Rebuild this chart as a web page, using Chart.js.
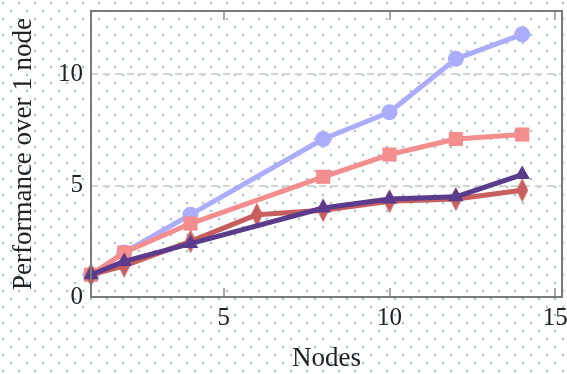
<!DOCTYPE html>
<html>
<head>
<meta charset="utf-8">
<script src="https://cdn.jsdelivr.net/npm/chart.js@4/dist/chart.umd.min.js"></script>
<style>
  html, body { margin: 0; padding: 0; }
  body {
    width: 567px; height: 374px; overflow: hidden;
    background-color: #ffffff;
    background-image:
      radial-gradient(circle, rgba(105,145,180,0.55) 0.9px, rgba(105,145,180,0) 1.7px),
      radial-gradient(circle, rgba(105,145,180,0.55) 0.9px, rgba(105,145,180,0) 1.7px);
    background-size: 16px 16px, 16px 16px;
    background-position: 3px 3px, 11px 11px;
  }
  #wrap { position: absolute; left: 0; top: 0; width: 567px; height: 374px; }
</style>
</head>
<body>
<div id="wrap"><canvas id="chart" width="567" height="374"></canvas></div>
<script>
// Node counts per series
const nodes = [1, 2, 4, 8, 10, 12, 14];
const nodesWithSix = [1, 2, 4, 6, 8, 10, 12, 14];

// Speed-up relative to a single node
const circleSeries   = [1.0, 2.0, 3.7, 7.1, 8.3, 10.7, 11.8];
const squareSeries   = [1.0, 2.0, 3.3, 5.4, 6.4, 7.1, 7.3];
const diamondSeries  = [1.0, 1.4, 2.5, 3.7, 3.9, 4.3, 4.4, 4.8];
const triangleSeries = [1.0, 1.6, 2.4, 4.0, 4.4, 4.5, 5.5];

// Axis ticks and titles
const xTickValues = [5, 10, 15];
const yTickValues = [0, 5, 10];
const xTitle = 'Nodes';
const yTitle = 'Performance over 1 node';

const toPoints = (xs, ys) => xs.map((x, i) => ({ x: x, y: ys[i] }));

// Tall narrow diamond marker
function makeDiamond(color, w, h) {
  const c = document.createElement('canvas');
  c.width = w; c.height = h;
  const g = c.getContext('2d');
  g.fillStyle = color;
  g.beginPath();
  g.moveTo(w / 2, 0);
  g.lineTo(w, h / 2);
  g.lineTo(w / 2, h);
  g.lineTo(0, h / 2);
  g.closePath();
  g.fill();
  return c;
}

const BLUE = '#abadfc';
const PINK = '#f48e8e';
const RED = '#c65f5e';
const PURPLE = '#5b3b8b';
const TEXT = '#222222';
const NONE = 'rgba(0,0,0,0)';

const serif = '"Liberation Serif", "DejaVu Serif", serif';

// Fixed axis sizes; labels may overhang the plot edges
const noPadding = () => ({ left: 0, top: 0, right: 0, bottom: 0 });
function fixSize(s, w, h) {
  if (w) s.width = w;
  if (h) s.height = h;
  s.paddingLeft = s.paddingRight = s.paddingTop = s.paddingBottom = 0;
  s.getPadding = noPadding;
}

// Frame, inward tick marks, dashed grid lines and axis titles
const framePlugin = {
  id: 'frame',
  beforeDatasetsDraw(chart) {
    const { ctx, chartArea: a, scales } = chart;
    ctx.save();
    ctx.strokeStyle = '#d4d4d4';
    ctx.lineWidth = 2;
    ctx.setLineDash([7, 5]);
    yTickValues.forEach(v => {
      if (v === 0) return;
      const y = Math.round(scales.y.getPixelForValue(v));
      ctx.beginPath();
      ctx.moveTo(a.left, y);
      ctx.lineTo(a.right, y);
      ctx.stroke();
    });
    ctx.setLineDash([]);
    ctx.strokeStyle = '#a8a8a8';
    ctx.lineWidth = 2;
    xTickValues.forEach(v => {
      const x = Math.round(scales.x.getPixelForValue(v));
      ctx.beginPath();
      ctx.moveTo(x, a.top);
      ctx.lineTo(x, a.top + 9);
      ctx.moveTo(x, a.bottom);
      ctx.lineTo(x, a.bottom - 9);
      ctx.stroke();
    });
    ctx.restore();
  },
  afterDraw(chart) {
    const { ctx, chartArea: a } = chart;
    ctx.save();
    ctx.strokeStyle = '#7a7a7a';
    ctx.lineWidth = 2;
    ctx.strokeRect(a.left, a.top, a.right - a.left, a.bottom - a.top);

    ctx.fillStyle = TEXT;
    ctx.font = '27px ' + serif;
    ctx.textAlign = 'center';
    ctx.textBaseline = 'middle';
    ctx.fillText(xTitle, (a.left + a.right) / 2, 359);
    ctx.translate(24, (a.top + a.bottom) / 2);
    ctx.rotate(-Math.PI / 2);
    ctx.fillText(yTitle, 0, 0);
    ctx.restore();
  }
};

new Chart(document.getElementById('chart'), {
  type: 'line',
  data: {
    datasets: [
      {
        label: 'triangle',
        data: toPoints(nodes, triangleSeries),
        borderColor: PURPLE, backgroundColor: PURPLE,
        borderWidth: 5, pointStyle: 'triangle', pointRadius: 9,
        pointBorderWidth: 0, order: 0, clip: false
      },
      {
        label: 'diamond',
        data: toPoints(nodesWithSix, diamondSeries),
        borderColor: RED, backgroundColor: RED,
        borderWidth: 5, pointStyle: makeDiamond(RED, 12, 24),
        pointRadius: 9, order: 1, clip: false
      },
      {
        label: 'square',
        data: toPoints(nodes, squareSeries),
        borderColor: PINK, backgroundColor: PINK,
        borderWidth: 5, pointStyle: 'rect', pointRadius: 10,
        pointBorderWidth: 0, order: 2, clip: false
      },
      {
        label: 'circle',
        data: toPoints(nodes, circleSeries),
        borderColor: BLUE, backgroundColor: BLUE,
        borderWidth: 5, pointStyle: 'circle', pointRadius: 8,
        pointBorderWidth: 0, order: 3, clip: false
      }
    ]
  },
  options: {
    responsive: false,
    animation: false,
    events: [],
    layout: { autoPadding: false, padding: { top: 11, right: 5, left: 0, bottom: 0 } },
    plugins: { legend: { display: false }, tooltip: { enabled: false } },
    elements: { line: { tension: 0, borderJoinStyle: 'round' } },
    scales: {
      x: {
        type: 'linear', min: 1, max: 15.2,
        afterBuildTicks: s => { s.ticks = xTickValues.map(v => ({ value: v })); },
        afterFit: s => fixSize(s, 0, 77),
        grid: { color: NONE, tickColor: NONE, tickLength: 0 },
        border: { color: NONE },
        ticks: { color: TEXT, font: { family: serif, size: 25 }, padding: 6, maxRotation: 0 }
      },
      y: {
        type: 'linear', min: 0, max: 12.85,
        afterBuildTicks: s => { s.ticks = yTickValues.map(v => ({ value: v })); },
        afterFit: s => fixSize(s, 91, 0),
        grid: { color: NONE, tickColor: NONE, tickLength: 0 },
        border: { color: NONE },
        ticks: { color: TEXT, font: { family: serif, size: 25 }, padding: 8 }
      }
    }
  },
  plugins: [framePlugin]
});
</script>
</body>
</html>
